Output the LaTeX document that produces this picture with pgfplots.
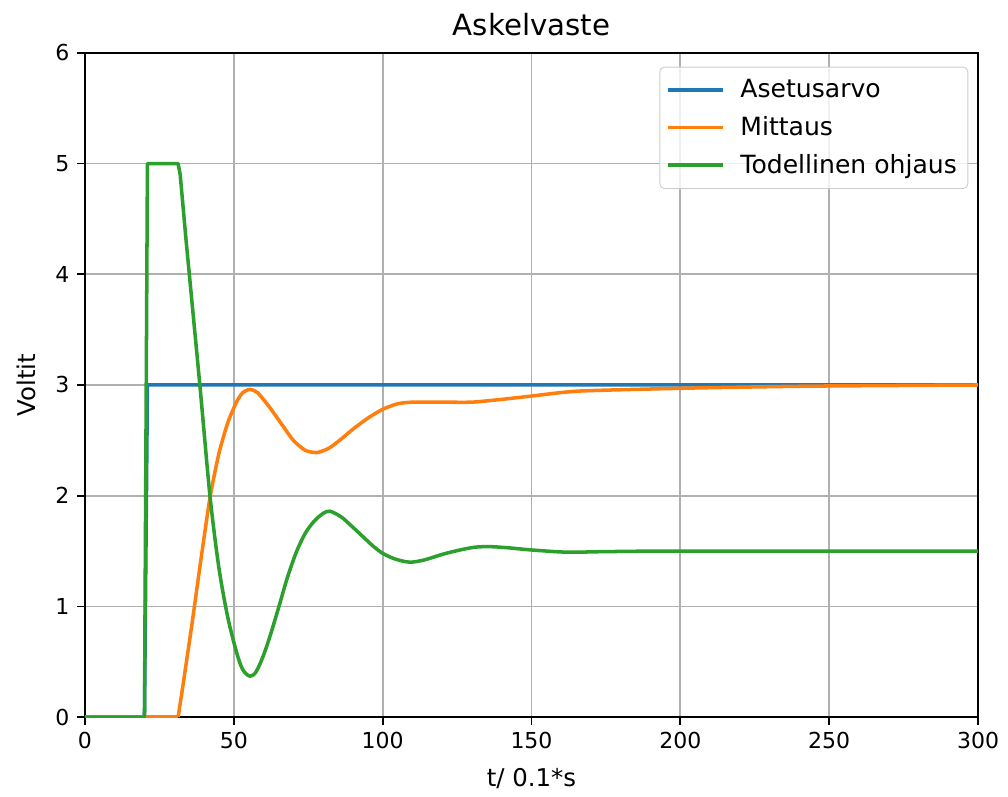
\documentclass[border=0pt]{standalone}
\usepackage{pgfplots}
\pgfplotsset{compat=1.18}
\usepackage{fontspec}
\setmainfont{DejaVu Sans}
\definecolor{c0}{HTML}{1F77B4}
\definecolor{c1}{HTML}{FF7F0E}
\definecolor{c2}{HTML}{2CA02C}
\definecolor{gridc}{HTML}{B0B0B0}
\begin{document}
\begin{tikzpicture}
\begin{axis}[
  scale only axis,
  width=406pt, height=302pt,
  xmin=0, xmax=300, ymin=0, ymax=6,
  xtick={0,50,...,300}, ytick={0,1,...,6},
  grid=major,
  major grid style={draw=gridc, line width=0.8pt},
  axis line style={line width=0.8pt},
  tick style={black, line width=0.8pt},
  tick align=outside, tick pos=lower,
  major tick length=3.5pt,
  ticklabel style={font=\fontsize{10}{12}\selectfont},
  /pgf/number format/assume math mode=true,
  title={Askelvaste},
  title style={font=\fontsize{13.3}{15}\selectfont, yshift=-2pt},
  xlabel={t/ 0.1*s}, ylabel={Voltit},
  label style={font=\fontsize{11.1}{13}\selectfont},
  xlabel style={yshift=-2pt},
  ylabel style={yshift=2pt},
  legend style={at={(rel axis cs:0.989,0.979)}, anchor=north east,
    draw=black!20, rounded corners=2pt, fill=white, fill opacity=0.8, text opacity=1,
    font=\fontsize{11.4}{13.5}\selectfont, row sep=3pt, inner xsep=3pt, inner ysep=3.5pt},
  legend cell align=left,
  legend image code/.code={\draw[#1] (0pt,0pt) -- (25pt,0pt); \path (30pt,0pt);},
  every axis plot/.append style={line width=1.6pt, line join=round},
]
\addplot[c0] coordinates {(0,0) (20,0) (21,3) (300,3)};
\addlegendentry{Asetusarvo}
\addplot[c1, forget plot] coordinates {(0,0) (31.3,0)};
\addplot[c1, smooth, tension=0.4] coordinates {
(31.3,0) (33,0.3) (36,0.85) (39,1.43) (42,1.98) (45,2.38) (48,2.66)
(51,2.85) (53,2.93) (55.4,2.96) (58,2.93) (62,2.80) (66.5,2.63) (70,2.50)
(74,2.41) (78,2.39) (82,2.43) (86,2.51) (90,2.60) (95,2.70) (100,2.78)
(105,2.83) (110,2.845) (120,2.845) (130,2.845) (140,2.87) (150,2.90)
(166,2.945) (200,2.97) (220,2.98) (245,2.99) (300,3.0)};
\addlegendentry{Mittaus}
\addplot[c2, forget plot] coordinates {(0,0) (20,0) (21,5) (31.3,5) (32,4.9) (34,4.3)};
\addplot[c2, smooth, tension=0.5] coordinates {
(34,4.3) (38.6,3.0) (42,2.0) (45,1.35)
(48,0.9) (51,0.58) (53,0.43) (55.4,0.37) (57.5,0.41) (60,0.56) (62.5,0.76)
(65.5,1.03) (68,1.26) (71,1.49) (74,1.66) (77,1.77) (80,1.84) (82.3,1.86)
(86,1.81) (89,1.74) (93,1.64) (97,1.54) (100,1.48) (104,1.43) (109,1.40)
(114,1.42) (120,1.47) (126,1.51) (131,1.535) (136,1.54) (142,1.53)
(150,1.51) (162,1.49) (175,1.495) (200,1.50) (300,1.50)};
\addlegendentry{Todellinen ohjaus}
\end{axis}
\path ([shift={(-38.6pt,-34.5pt)}]current axis.south west) rectangle ([shift={(13.6pt,24pt)}]current axis.north east);
\end{tikzpicture}
\end{document}
